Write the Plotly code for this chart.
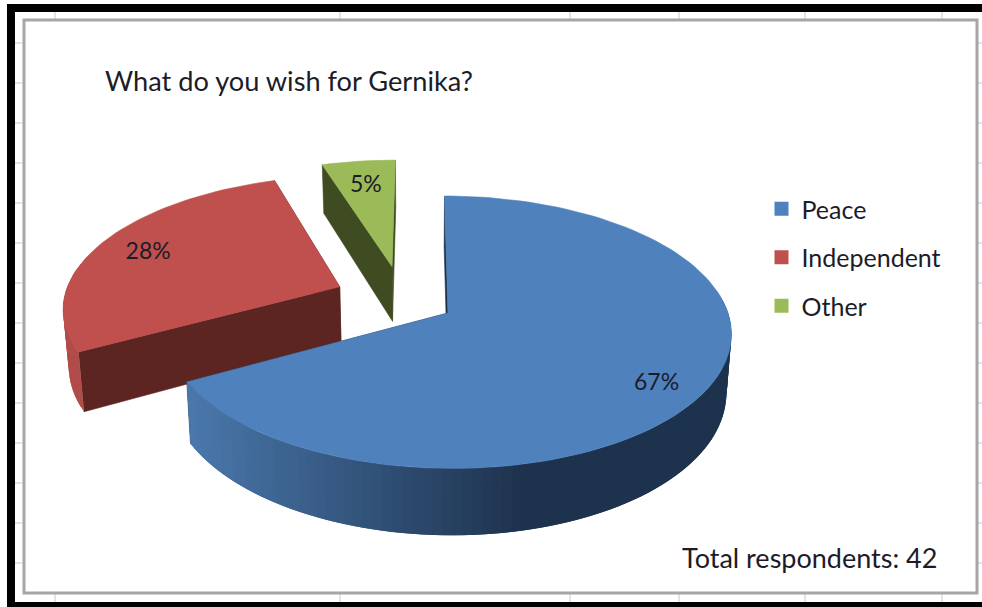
import math
import plotly.graph_objects as go

categories = ["Peace", "Independent", "Other"]
values = [67, 28, 5]
total_respondents = 42
title_text = "What do you wish for Gernika?"

top_colors = ["#4f81bd", "#bf504d", "#9bbb59"]
face_colors = ["#1d324d", "#5c2522", "#3f4c21"]
rim_left = [(74, 120, 172), (176, 76, 73), (120, 150, 70)]
rim_right = [(29, 50, 77), (140, 60, 58), (60, 75, 33)]

# projection of the pie disc (perspective, pixels)
VX, CX, CY, B, A, K, DEPTH, LOWER_X = 420, 448, 313, 280, 133.5, 0.141, 57.5, 0.984
OFFSETS = [(0.0, 0.0), (-0.395, 0.202), (-0.205, 0.366)]
LABEL_R = [0.84, 0.80, 0.76]
LABEL_TURN = [4.5, 0, 0]
LABEL_DROP = 2
STUB_X = [55, 340, 570, 679, 805, 942]
STUB_Y = [43 + 40 * n for n in range(14)]
FONT = "Lato"
TEXT = "#1c1c28"
STUB = "#d3dbea"


def project(x, y, lower=False):
    s = 1 / (1 + K * y)
    px = (CX - VX + B * x) * s
    if lower:
        return VX + px * LOWER_X, CY - A * y * s + DEPTH * s
    return VX + px, CY - A * y * s


def poly(points, color, width=0.6):
    xs = [p[0] for p in points] + [points[0][0]]
    ys = [p[1] for p in points] + [points[0][1]]
    return go.Scatter(x=xs, y=ys, mode="lines", fill="toself", fillcolor=color,
                      line=dict(color=color, width=width), hoverinfo="skip", showlegend=False)


def disc(a, off):
    return off[0] + math.sin(a), off[1] + math.cos(a)


fig = go.Figure()
total = sum(values)
angles = []
acc = 0
for v in values:
    angles.append((acc, acc + v))
    acc += v

for i in [2, 1, 0]:
    start, end = angles[i]
    a0, a1 = [t / total * 2 * math.pi for t in (start, end)]
    off = OFFSETS[i]
    edges = sorted([a0, a1], key=lambda a: -disc(a, off)[1])
    for a in edges:
        p = disc(a, off)
        fig.add_trace(poly([project(*off), project(*p), project(*p, True), project(*off, True)],
                           face_colors[i]))
    steps = max(4, int((end - start) * 2))
    arc = [a0 + (a1 - a0) * j / steps for j in range(steps + 1)]
    for j in range(steps):
        if math.cos(arc[j]) > 0.15:
            continue
        p, q = disc(arc[j], off), disc(arc[min(j + 2, steps)], off)
        sx = project(*p)[0]
        t = min(1, max(0, (sx - 190) / 340))
        l, r = rim_left[i], rim_right[i]
        c = "rgb({},{},{})".format(*[round(l[k] + (r[k] - l[k]) * t) for k in range(3)])
        fig.add_trace(poly([project(*p), project(*q), project(*q, True), project(*p, True)], c, 0))
    top = [project(*off)] + [project(*disc(a, off)) for a in arc]
    fig.add_trace(poly(top, top_colors[i]))

for i, v in enumerate(values):
    mid = (angles[i][0] + angles[i][1]) / 2 / total * 2 * math.pi + math.radians(LABEL_TURN[i])
    off = OFFSETS[i]
    x, y = project(off[0] + LABEL_R[i] * math.sin(mid), off[1] + LABEL_R[i] * math.cos(mid))
    fig.add_trace(go.Scatter(x=[x], y=[y + LABEL_DROP], mode="text", text=[f"{v}%"], hoverinfo="skip",
                             showlegend=False,
                             textfont=dict(family=FONT, size=23, color=TEXT)))

for i, name in enumerate(categories):
    fig.add_trace(go.Scatter(x=[None], y=[None], mode="markers", name=name, legendgroup=name,
                             marker=dict(symbol="square", size=14, color=top_colors[i])))

shapes = []
for x in STUB_X:
    shapes.append(dict(type="line", x0=x, x1=x, y0=12, y1=602, layer="below",
                       line=dict(color=STUB, width=1.5)))
for y in STUB_Y:
    shapes.append(dict(type="line", x0=15, x1=982, y0=y, y1=y, layer="below",
                       line=dict(color=STUB, width=1.5)))
shapes += [
    dict(type="rect", x0=24, y0=20, x1=977, y1=593, layer="below",
         line=dict(color="#a6a6a6", width=3), fillcolor="white"),
    dict(type="rect", x0=7, y0=4, x1=982, y1=12, layer="below", line_width=0, fillcolor="black"),
    dict(type="rect", x0=7, y0=4, x1=15, y1=607, layer="below", line_width=0, fillcolor="black"),
    dict(type="rect", x0=7, y0=602, x1=982, y1=607, layer="below", line_width=0, fillcolor="black"),
]

fig.update_layout(
    width=982, height=607, autosize=False, margin=dict(l=0, r=0, t=0, b=0),
    paper_bgcolor="white", plot_bgcolor="white",
    xaxis=dict(range=[0, 982], visible=False, fixedrange=True),
    yaxis=dict(range=[607, 0], visible=False, fixedrange=True),
    shapes=shapes,
    title=dict(text=title_text, x=105 / 982, xanchor="left", y=1 - 81.5 / 607, yanchor="middle",
               font=dict(family=FONT, size=27.2, color=TEXT)),
    legend=dict(x=761.5 / 982, y=1 - 186 / 607, xanchor="left", yanchor="top", bgcolor="rgba(0,0,0,0)",
                traceorder="grouped", tracegroupgap=13, itemsizing="trace",
                font=dict(family=FONT, size=25, color=TEXT)),
    annotations=[dict(text=f"Total respondents: {total_respondents}", x=939, y=557, xref="x", yref="y",
                      xanchor="right", yanchor="middle", showarrow=False,
                      font=dict(family=FONT, size=27, color=TEXT))],
)
fig.write_html("out.html", config=dict(displayModeBar=False),
               post_script="document.body.style.margin='0';")
